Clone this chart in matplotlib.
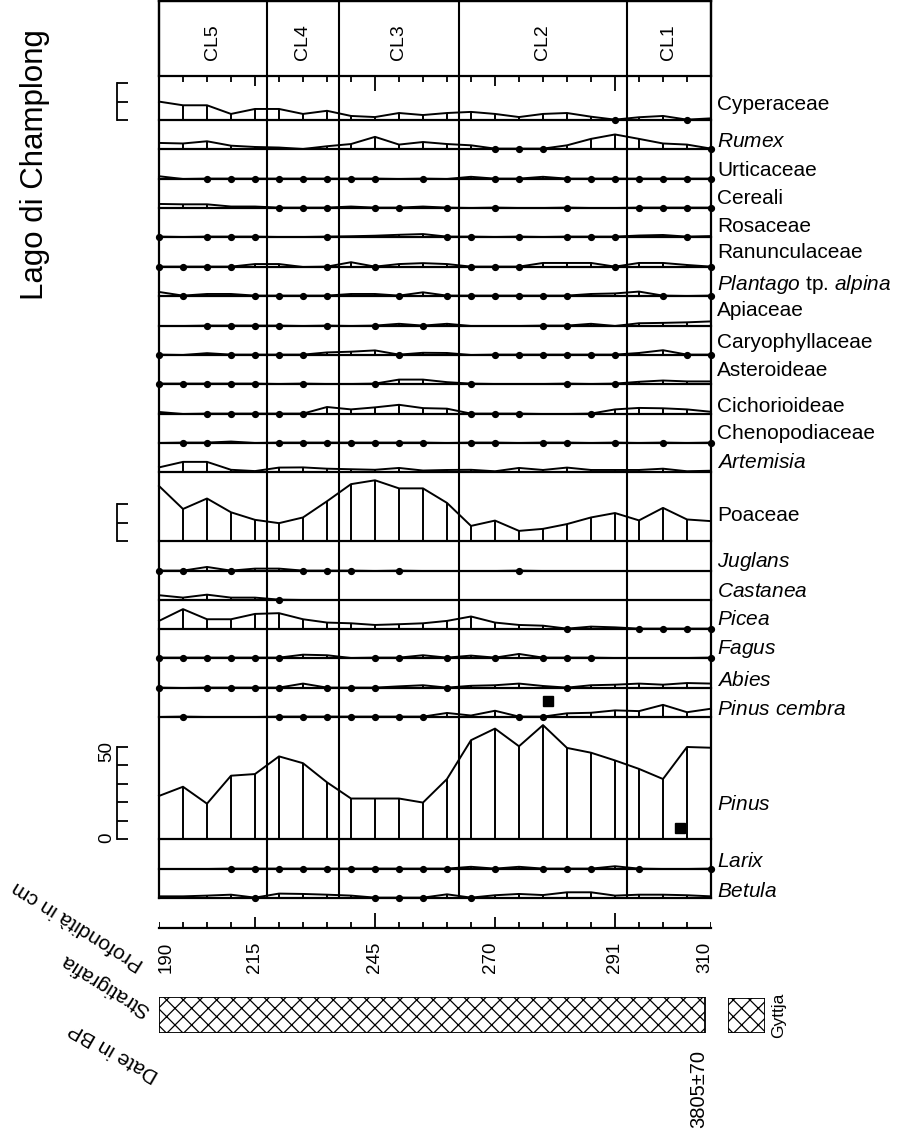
import numpy as np
import matplotlib.pyplot as plt
import matplotlib.transforms as mtransforms
from matplotlib.patches import Rectangle

plt.rcParams['font.family'] = ['Liberation Sans', 'DejaVu Sans']
plt.rcParams['mathtext.fontset'] = 'custom'
plt.rcParams['mathtext.rm'] = 'Liberation Sans'
plt.rcParams['mathtext.it'] = 'Liberation Sans:italic'
plt.rcParams['hatch.linewidth'] = 0.9

# ==================================================
# Data (percentages per sample, top = 190 cm, bottom = 310 cm)
# T marks a trace (drawn as a dot on the baseline)
# ==================================================
T = 0.2
n_samples = 24
depth_labels = ['190', '215', '245', '270', '291', '310']
depth_label_idx = [0, 4, 9, 14, 19, 23]

zones = ['CL5', 'CL4', 'CL3', 'CL2', 'CL1']
zone_bounds = [0, 4.5, 7.5, 12.5, 19.5, 23]

taxa = ['Cyperaceae', '$\\mathit{Rumex}$', 'Urticaceae', 'Cereali', 'Rosaceae',
        'Ranunculaceae', '$\\mathit{Plantago}$ tp. $\\mathit{alpina}$', 'Apiaceae',
        'Caryophyllaceae', 'Asteroideae', 'Cichorioideae', 'Chenopodiaceae',
        '$\\mathit{Artemisia}$', 'Poaceae', '$\\mathit{Juglans}$', '$\\mathit{Castanea}$',
        '$\\mathit{Picea}$', '$\\mathit{Fagus}$', '$\\mathit{Abies}$',
        '$\\mathit{Pinus\\ cembra}$', '$\\mathit{Pinus}$', '$\\mathit{Larix}$',
        '$\\mathit{Betula}$']

cyperaceae = [10, 8, 8, 3.3, 6, 6, 3.3, 5, 2.2, 1.6, 3.8, 2.7, 3.8, 4.4, 3.3, 1.6, 3.3, 3.8, 1.8, T, 1.5, 2.2, T, 0.9]
rumex = [3.3, 3, 4.2, 1.8, 1.1, 0.8, 0, 1.5, 2.7, 6.6, 2.4, 3.8, 2.7, 2, T, T, T, 2, 5.5, 7.9, 5.5, 3, 2.4, T]
urticaceae = [1.5, 0, T, T, T, T, T, T, T, T, 0, T, 0, 1.2, T, T, 1.2, T, T, T, T, T, T, T]
cereali = [2.2, 2, 2, 0.8, 0.8, T, T, T, 0.8, T, T, 0.8, T, 0, T, 0, 0, T, 0, 0, T, T, T, T]
rosaceae = [T, 0, T, T, T, 0, 0, T, 0.4, 0.7, 1.2, 1.6, T, T, 0, T, 0, T, T, T, 0.8, 1.1, T, 0.5]
ranunculaceae = [T, T, T, T, 1.6, 1.6, 0, T, 2.6, T, 1.6, 2.1, 1.6, T, T, T, 2.2, 2.2, 2.2, T, 2.2, 2.2, 1.1, T]
plantago = [2.2, T, 1.1, 1.1, T, T, T, T, 1.1, 1.1, T, 2, T, T, T, T, T, T, 1.1, 1.4, 2.4, T, 0, T]
apiaceae = [0, 0, T, T, T, T, 0, T, 0, T, 1.2, T, 1.2, 0, 0, 0, T, T, 1.2, 0, 1.5, 1.7, 2.0, 2.5]
caryophyllaceae = [T, 0, 1.0, T, T, T, T, 1.4, 1.8, 2.5, T, 1.2, 1.1, 0, T, T, T, T, T, T, 1.1, 2.6, T, T]
asteroideae = [T, T, T, T, T, 0, T, 0, 0, T, 2.4, 2.4, 1.0, T, 0, 0, 0, T, 0, T, 1.2, 1.9, 1.4, 1.4]
cichorioideae = [1.1, 0, T, T, T, T, T, 3.8, 2.5, 3.6, 5.0, 3.2, 2.9, T, T, T, 0, 0, T, 2.5, 3.3, 3.1, 2.5, 1.2]
chenopodiaceae = [0, T, T, 0.8, 0, T, T, T, T, T, T, T, 0, T, T, 0, T, T, 0, T, 0, T, 0, T]
artemisia = [2.5, 5.5, 5.5, 1.2, 0.5, 2.4, 2.5, 1.8, 1.5, 1.2, 2.2, 0.8, 1.1, 1.2, 0.4, 2.2, 1.1, 2.4, 1.1, 1.1, 1.1, 1.8, 0.4, 0.7]
poaceae = [29.9, 17.4, 23.1, 15.6, 11.5, 9.7, 12.8, 21.6, 30.9, 33, 28.6, 28.6, 20.7, 8.2, 11.1, 5.5, 6.6, 9.2, 12.8, 15.2, 11.2, 18, 11.7, 10.8]
juglans = [T, T, 2.2, T, 1.3, 1.3, T, T, T, 0, T, 0, 0, 0, 0, T, 0, 0, 0, 0, 0, 0, 0, 0]
castanea = [2.6, 1.3, 2.9, 1.3, 1.3, T, 0, 0, 0, 0, 0, 0, 0, 0, 0, 0, 0, 0, 0, 0, 0, 0, 0, 0]
picea = [4.4, 10.8, 5.3, 5.3, 8.2, 8.6, 5.3, 3.5, 3.1, 2.2, 2.6, 3.1, 4.4, 6.8, 3.5, 2.2, 1.8, T, 1.3, 0.9, T, T, T, T]
fagus = [T, T, T, T, T, T, 1.8, 1.5, 0, T, T, 1.5, T, 1.3, T, 2.2, T, T, T, 0, 0, 0, 0, T]
abies = [T, 0, T, T, T, T, 2.4, T, T, T, 0.9, 1.5, T, 1.2, 1.5, 2.4, 1.1, T, 1.5, 1.8, 2.4, 1.8, 2.7, 2.4]
pinus_cembra = [0, T, 0, 0, 0, T, T, T, T, T, T, T, 2.2, 0.8, 3.4, T, T, 2.0, 2.3, 3.6, 3.2, 6.6, 2.6, 4.5]
pinus = [23.4, 28.4, 19.2, 34.4, 35.3, 44.9, 41.2, 30.8, 22, 22, 22, 19.8, 32.6, 53.7, 60, 50.4, 61.9, 49.5, 46.9, 42.7, 38.1, 32.6, 50, 49.6]
larix = [0, 0, 0, T, T, T, T, T, T, T, T, T, T, 1.2, T, 1.2, T, T, T, 1.5, T, 0, 0, T]
betula = [0.9, 0.9, 1.3, 1.8, T, 2.4, 2.2, 1.8, 1.3, T, T, T, 2.0, T, 1.5, 2.2, 1.6, 3.1, 3.1, 1.3, 1.8, 1.8, 1.5, 0.9]

values = [cyperaceae, rumex, urticaceae, cereali, rosaceae, ranunculaceae, plantago,
          apiaceae, caryophyllaceae, asteroideae, cichorioideae, chenopodiaceae,
          artemisia, poaceae, juglans, castanea, picea, fagus, abies, pinus_cembra,
          pinus, larix, betula]

# black squares (Pinus cembra / Pinus)
square_taxa = [19, 20]
square_x = [16.2, 21.7]
square_y = [8.7, 6.0]

strat_end = 22.75
date_label = '3805±70'

# ==================================================
# Layout (pixels in a 900 x 1134 figure)
# ==================================================
W, H = 900, 1134
X0, X1 = 159, 711
HEAD_TOP, HEAD_BOT = 1, 76
PX = 1.84  # pixels per percent
base_px = [120, 149, 179, 208, 237, 267, 296, 326, 355, 384, 414, 443, 472,
           541, 571, 600, 629, 658, 688, 717, 839, 869, 898]
label_px = [110, 147, 176, 204, 232, 258, 290, 316, 348, 376, 412, 439, 468,
            521, 567, 597, 625, 654, 686, 715, 810, 867, 897]
scale_strips = {0: 20, 13: 20, 20: 50}
tick_len_top = {4: 10, 9: 15, 14: 10, 19: 15}
tick_len_bot = {4: 11, 9: 15, 14: 11, 19: 15}
depth_label_shift = [7, 0, 0, -4, 0, -6]  # px, keeps end labels inside
LW = 1.4

fig = plt.figure(figsize=(W / 100, H / 100), dpi=100)


def px_axes(x0, y0, x1, y1):
    return fig.add_axes([x0 / W, 1 - y1 / H, (x1 - x0) / W, (y1 - y0) / H])


x = np.arange(n_samples)

# --- strips ---
top = HEAD_BOT
for i, (name, vals) in enumerate(zip(taxa, values)):
    bot = base_px[i]
    ax = px_axes(X0, top, X1, bot)
    ax.patch.set_alpha(0)
    v = np.array(vals, dtype=float)
    ax.set_xlim(0, n_samples - 1)
    ax.set_ylim(0, (bot - top) / PX)
    for s in ax.spines.values():
        s.set_visible(False)
    ax.set_xticks([])
    ax.set_yticks([])
    ax.plot(x, v, color='black', lw=LW, clip_on=False)
    big = v > T
    ax.vlines(x[big], 0, v[big], color='black', lw=LW)
    tr = np.isclose(v, T)
    ax.plot(x[tr], np.zeros(tr.sum()), 'o', color='black', ms=4.2, clip_on=False)
    ax.axhline(0, color='black', lw=1.6, clip_on=False)
    if i in square_taxa:
        k = square_taxa.index(i)
        ax.plot(square_x[k], square_y[k], 's', color='black', ms=6.5)
    if i in scale_strips:
        top_val = scale_strips[i]
        ax.spines['left'].set_visible(True)
        ax.spines['left'].set_position(('outward', 42 * 0.72))
        ax.spines['left'].set_bounds(0, top_val)
        ax.spines['left'].set_linewidth(1.3)
        ticks = list(range(0, top_val + 1, 10))
        labs = [''] * len(ticks)
        if top_val == 50:
            labs[0], labs[-1] = '0', '50'
        ax.set_yticks(ticks, labs)
        ax.tick_params(axis='y', direction='in', length=8, width=1.3,
                       labelsize=13.5, labelrotation=90, pad=1)
    fig.text(717 / W, 1 - label_px[i] / H, name, fontsize=15,
             ha='left', va='baseline')
    top = bot

# --- header with zones ---
head = px_axes(X0, HEAD_TOP, X1, HEAD_BOT)
head.set_xlim(0, n_samples - 1)
head.set_ylim(0, 1)
head.set_xticks([])
head.set_yticks([])
head.patch.set_alpha(0)
for s in head.spines.values():
    s.set_linewidth(1.6)
for k, z in enumerate(zones):
    mid = (zone_bounds[k] + zone_bounds[k + 1]) / 2
    head.text(mid, 0.21, z, rotation=90, rotation_mode='anchor', ha='left',
              va='center', fontsize=14)

# --- outer frame and zone boundaries ---
frame = px_axes(X0, HEAD_TOP, X1, base_px[-1])
frame.set_xlim(0, n_samples - 1)
frame.set_xticks([])
frame.set_yticks([])
frame.patch.set_alpha(0)
frame.spines['bottom'].set_visible(False)
for s in ['left', 'right', 'top']:
    frame.spines[s].set_linewidth(1.6)
for b in zone_bounds[1:-1]:
    frame.axvline(b, color='black', lw=1.5)

# --- top ticks under header ---
tt = px_axes(X0, HEAD_BOT, X1, HEAD_BOT + 16)
tt.set_xlim(0, n_samples - 1)
tt.set_ylim(16, 0)
tt.axis('off')
tt.vlines(x, 0, [tick_len_top.get(i, 6) for i in x], color='black', lw=1.3)

# --- depth axis ---
dax = px_axes(X0, 912, X1, 928)
dax.set_xlim(0, n_samples - 1)
dax.set_ylim(0, 16)
for s in dax.spines.values():
    s.set_visible(False)
dax.set_yticks([])
dax.axhline(0, color='black', lw=1.6, clip_on=False)
dax.vlines(x, 0, [tick_len_bot.get(i, 6) for i in x], color='black', lw=1.3)
dax.set_xticks(depth_label_idx, depth_labels)
dax.tick_params(axis='x', length=0, pad=10, labelsize=13.5, labelrotation=90)
for lab, dx in zip(dax.get_xticklabels(), depth_label_shift):
    lab.set_transform(lab.get_transform() +
                      mtransforms.ScaledTranslation(dx / 100, 0, fig.dpi_scale_trans))
dax.patch.set_alpha(0)

# --- stratigraphy ---
sax = px_axes(X0, 997, X1, 1033)
sax.set_xlim(0, n_samples - 1)
sax.set_ylim(0, 1)
sax.axis('off')
sax.barh(0.5, strat_end, left=0, height=1, hatch='xx', facecolor='white',
         edgecolor='black', lw=1.3)

lax = px_axes(728, 998, 765, 1033)
lax.axis('off')
lax.add_patch(Rectangle((0, 0), 1, 1, hatch='xx', facecolor='white',
                        edgecolor='black', lw=1.3, transform=lax.transAxes))
fig.text(779 / W, 1 - 1015 / H, 'Gyttja', rotation=90, ha='center',
         va='center', fontsize=12.5)
fig.text(699 / W, 1 - 1050 / H, date_label, rotation=90, rotation_mode='anchor',
         ha='right', va='center', fontsize=14.5)

# --- titles and row labels ---
fig.text(35 / W, 1 - 165 / H, 'Lago di Champlong', rotation=90, ha='center',
         va='center', fontsize=22.5)
fig.text(142 / W, 1 - 966 / H, 'Profondità in cm', rotation=148,
         rotation_mode='anchor', ha='left', va='center', fontsize=15)
fig.text(148 / W, 1 - 1012 / H, 'Stratigrafia', rotation=148,
         rotation_mode='anchor', ha='left', va='center', fontsize=15)
fig.text(157 / W, 1 - 1077 / H, 'Date in BP', rotation=150,
         rotation_mode='anchor', ha='left', va='center', fontsize=15)

fig.savefig('out.png', dpi=100)
